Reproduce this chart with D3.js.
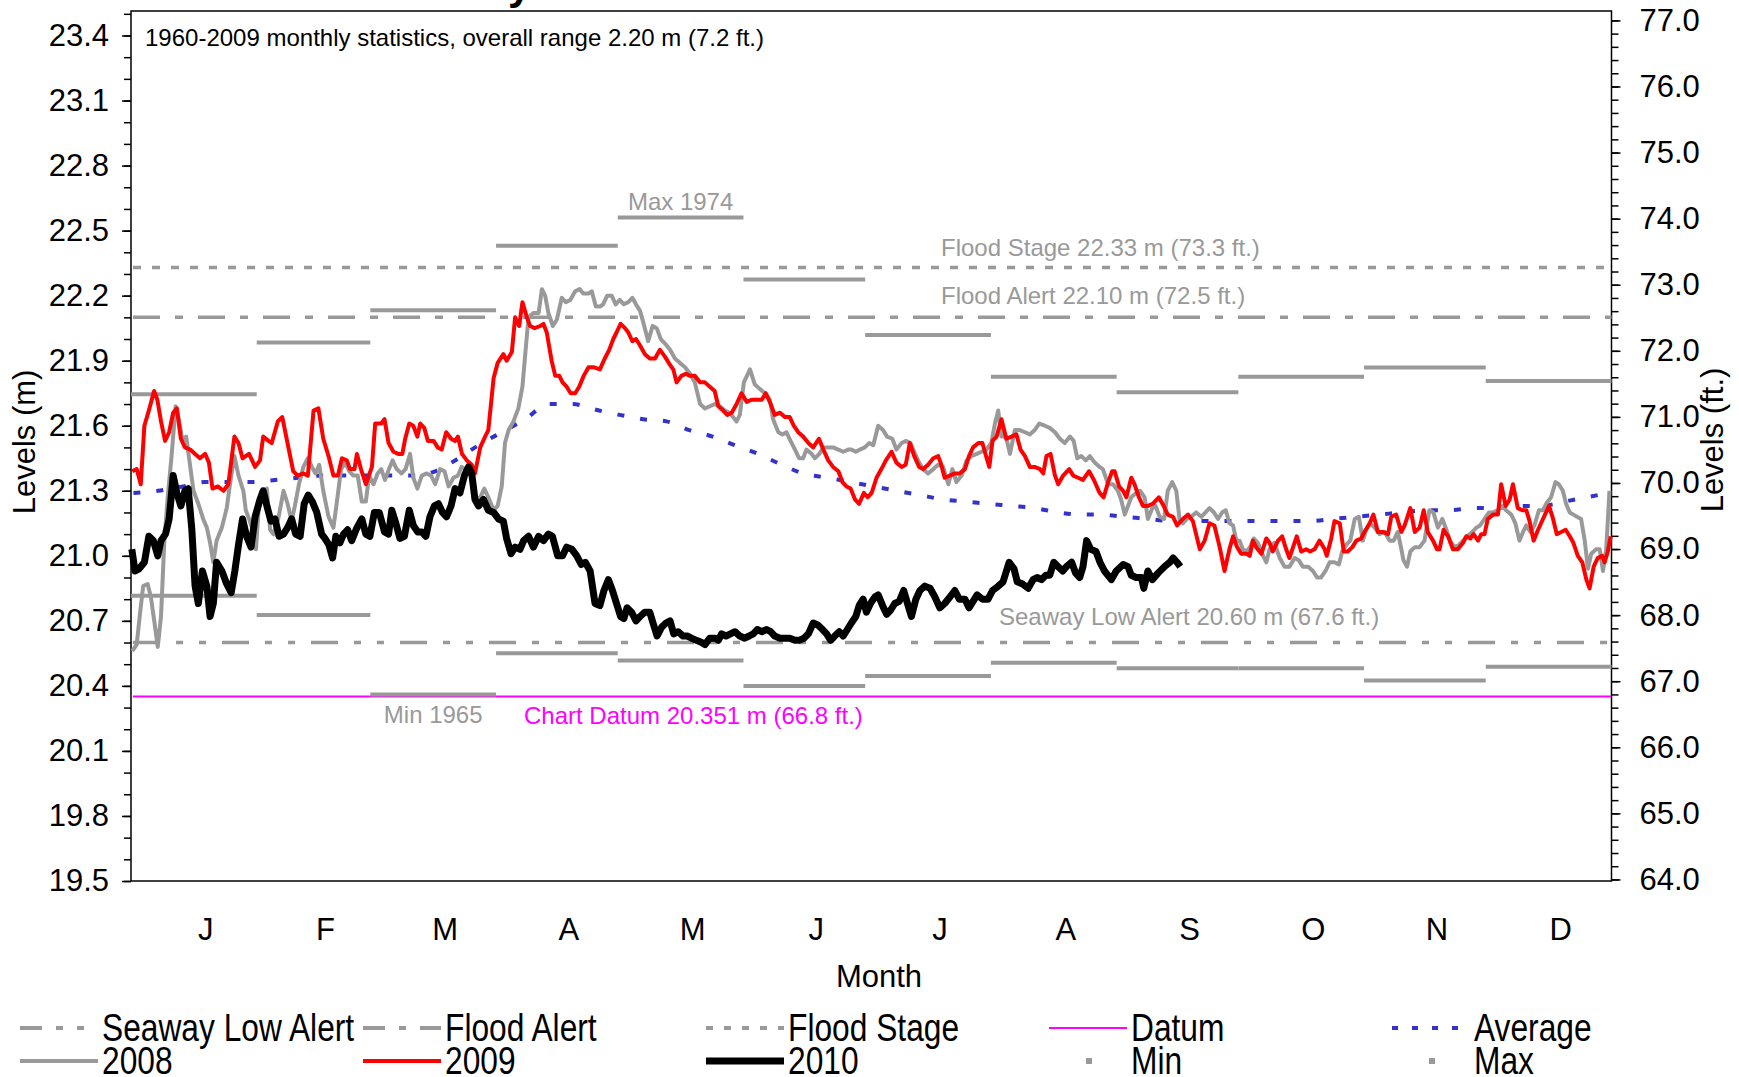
<!DOCTYPE html>
<html>
<head>
<meta charset="utf-8">
<script src="https://cdn.jsdelivr.net/npm/d3@7"></script>
<style>
    body { margin: 0; background: #ffffff; }
    svg text { font-family: "Liberation Sans", Arial, sans-serif; }
</style>
</head>
<body>
<div id="chart_levels"></div>
<script>
// --- Data ---
const monthStarts = [0, 31, 59, 90, 120, 151, 181, 212, 243, 273, 304, 334, 365];
const monthLabels = ["J", "F", "M", "A", "M", "J", "J", "A", "S", "O", "N", "D"];
const monthlyMax = [21.745, 21.984, 22.133, 22.43, 22.56, 22.275, 22.019, 21.826, 21.755, 21.826, 21.869, 21.806];
const monthlyMin = [20.816, 20.727, 20.36, 20.55, 20.517, 20.40, 20.446, 20.507, 20.481, 20.481, 20.425, 20.488];

const leftTicks = [19.5, 19.8, 20.1, 20.4, 20.7, 21.0, 21.3, 21.6, 21.9, 22.2, 22.5, 22.8, 23.1, 23.4];
const rightTicks = [64, 65, 66, 67, 68, 69, 70, 71, 72, 73, 74, 75, 76, 77];

const seawayLowAlert = 20.60;
const floodAlert = 22.10;
const floodStage = 22.33;
const chartDatum = 20.351;

// [day of year, level in m]
const levels2008 = [[0.3,20.56],[1.4,20.59],[2.2,20.73],[3.0,20.86],[4.1,20.87],[4.9,20.81],[5.8,20.69],[6.6,20.58],[7.4,20.72],[8.2,21.06],[9.0,21.26],[10.0,21.46],[11.0,21.69],[11.8,21.63],[12.7,21.53],[13.6,21.55],[14.4,21.44],[15.4,21.30],[16.6,21.24],[17.8,21.17],[18.7,21.13],[19.5,21.06],[20.3,20.97],[21.1,21.07],[22.4,21.13],[23.6,21.22],[24.4,21.33],[25.5,21.46],[26.5,21.37],[27.7,21.30],[28.3,21.21],[29.1,21.17],[30.0,21.12],[30.8,21.03],[31.4,21.20],[32.2,21.30],[33.5,21.31],[34.3,21.12],[35.1,21.10],[36.3,21.17],[37.6,21.30],[38.6,21.24],[39.6,21.16],[40.4,21.23],[41.4,21.33],[42.5,21.41],[43.6,21.45],[44.6,21.41],[45.5,21.38],[46.4,21.42],[47.4,21.30],[48.7,21.18],[49.9,21.13],[50.7,21.24],[51.8,21.40],[52.8,21.43],[53.8,21.39],[54.8,21.37],[55.9,21.37],[56.9,21.25],[57.9,21.25],[58.7,21.37],[59.8,21.33],[60.8,21.38],[61.7,21.40],[62.6,21.35],[63.6,21.40],[64.5,21.44],[65.5,21.40],[66.7,21.38],[67.7,21.40],[68.8,21.47],[69.6,21.36],[70.6,21.31],[71.7,21.37],[72.9,21.38],[74.0,21.37],[75.0,21.33],[76.2,21.40],[77.3,21.39],[78.3,21.32],[79.5,21.36],[80.6,21.37],[81.5,21.41],[82.5,21.40],[83.6,21.40],[84.8,21.26],[86.1,21.27],[87.1,21.31],[88.1,21.27],[89.4,21.21],[90.4,21.23],[91.4,21.32],[92.2,21.52],[93.1,21.58],[94.3,21.62],[95.5,21.68],[96.5,21.78],[97.2,21.93],[98.0,22.10],[99.2,22.12],[100.5,22.12],[101.3,22.23],[102.1,22.20],[102.9,22.12],[104.0,22.06],[105.0,22.09],[106.2,22.19],[107.2,22.17],[108.3,22.18],[109.5,22.22],[110.6,22.23],[111.5,22.21],[112.8,22.21],[113.6,22.22],[114.6,22.15],
    [115.6,22.15],[116.4,22.16],[117.4,22.20],[118.5,22.20],[119.5,22.16],[120.5,22.18],[121.5,22.16],[122.6,22.17],[123.6,22.19],[124.5,22.16],[125.5,22.13],[126.4,22.07],[127.5,21.99],[128.6,22.06],[129.6,22.05],[130.6,22.00],[131.6,21.98],[132.9,21.95],[134.1,21.91],[135.3,21.89],[136.6,21.87],[137.8,21.84],[139.0,21.80],[140.3,21.70],[141.5,21.68],[142.7,21.69],[143.9,21.70],[145.2,21.69],[146.4,21.67],[147.6,21.66],[149.3,21.62],[150.1,21.65],[151.1,21.80],[152.6,21.86],[153.8,21.79],[155.0,21.77],[156.3,21.75],[157.5,21.72],[158.3,21.63],[159.6,21.57],[160.6,21.56],[161.6,21.57],[162.6,21.53],[163.7,21.49],[164.7,21.45],[165.7,21.45],[166.5,21.49],[167.8,21.47],[168.6,21.45],[169.7,21.47],[170.7,21.50],[171.9,21.50],[173.1,21.50],[174.4,21.49],[175.6,21.48],[176.8,21.49],[177.6,21.49],[178.7,21.48],[179.7,21.49],[180.9,21.50],[182.0,21.52],[183.0,21.51],[184.2,21.60],[185.4,21.58],[186.4,21.55],[187.7,21.54],[188.7,21.49],[190.0,21.52],[191.0,21.53],[192.2,21.52],[193.3,21.47],[194.3,21.43],[195.3,21.40],[196.5,21.38],[197.8,21.40],[199.0,21.42],[200.2,21.41],[201.5,21.33],[202.5,21.40],[203.5,21.34],[204.8,21.37],[206.0,21.44],[207.2,21.46],[208.5,21.47],[209.7,21.48],[210.9,21.49],[212.1,21.52],[213.0,21.61],[213.8,21.67],[214.6,21.55],[215.7,21.55],[216.7,21.47],[217.9,21.58],[219.1,21.58],[220.4,21.57],[221.6,21.56],[222.8,21.58],[223.9,21.61],[225.3,21.60],[226.5,21.59],[227.8,21.57],[229.0,21.54],[230.2,21.52],[231.5,21.55],[232.4,21.53],[233.3,21.45],[234.3,21.46],[235.4,21.44],[236.4,21.46],[237.6,21.43],
    [238.8,21.41],[239.6,21.40],[240.9,21.33],[242.1,21.33],[243.3,21.30],[244.1,21.26],[245.0,21.19],[245.8,21.23],[246.6,21.27],[247.8,21.29],[248.8,21.30],[249.9,21.27],[250.7,21.17],[251.8,21.22],[252.6,21.23],[253.6,21.18],[254.7,21.17],[255.6,21.30],[256.7,21.34],[257.7,21.30],[258.5,21.17],[259.3,21.15],[260.3,21.17],[261.4,21.18],[262.6,21.20],[263.9,21.18],[264.9,21.20],[265.9,21.22],[267.0,21.20],[268.0,21.17],[269.0,21.20],[269.9,21.21],[270.8,21.15],[271.7,21.14],[272.5,21.07],[273.3,21.07],[274.1,21.03],[275.0,21.02],[275.9,21.04],[276.8,21.08],[277.8,21.06],[279.1,21.00],[279.9,20.97],[280.7,21.03],[281.9,21.06],[283.2,20.99],[284.4,20.95],[285.6,20.95],[286.9,20.99],[287.9,20.98],[288.9,20.95],[290.2,20.95],[291.4,20.93],[292.4,20.90],[293.4,20.90],[294.5,20.93],[295.5,20.97],[296.7,20.97],[297.8,20.96],[298.6,21.02],[299.6,21.05],[300.6,21.07],[301.7,21.17],[302.7,21.18],[303.7,21.07],[304.5,21.12],[305.4,21.15],[306.6,21.13],[307.8,21.10],[309.1,21.11],[310.3,21.07],[311.3,21.07],[312.3,21.11],[313.2,21.03],[313.7,20.98],[314.6,20.95],[315.4,21.02],[316.5,21.04],[317.7,21.04],[318.9,21.07],[320.1,21.21],[321.1,21.20],[322.2,21.13],[323.3,21.17],[324.3,21.12],[325.2,21.07],[326.3,21.04],[327.4,21.05],[328.4,21.07],[329.4,21.09],[330.7,21.11],[331.7,21.13],[332.6,21.14],[333.7,21.17],[334.8,21.20],[335.8,21.20],[337.0,21.21],[338.2,21.23],[339.0,21.21],[340.3,21.19],[341.3,21.15],[342.3,21.07],[343.2,21.11],[344.0,21.14],[345.0,21.11],[346.0,21.14],[347.1,21.21],[348.1,21.21],[348.9,21.24],[350.1,21.27],[351.2,21.34],[352.0,21.33],[353.0,21.30],[353.8,21.24],[354.7,21.20],[355.6,21.19],[356.5,21.18],[357.5,21.17],[358.4,21.07],[359.2,20.94],[360.0,21.01],[361.2,21.03],[362.1,21.03],[362.9,20.93],[363.7,21.03],[364.5,21.30]];

const levels2009 = [[0.3,21.39],[1.4,21.40],[2.4,21.33],[3.3,21.60],[4.4,21.67],[5.7,21.76],[6.5,21.72],[7.4,21.62],[8.4,21.53],[9.4,21.57],[10.4,21.66],[11.3,21.68],[12.3,21.54],[13.3,21.50],[14.6,21.49],[15.8,21.47],[17.0,21.45],[18.3,21.47],[19.2,21.43],[20.1,21.31],[21.4,21.32],[22.8,21.30],[24.0,21.33],[25.5,21.55],[26.5,21.52],[27.5,21.45],[29.1,21.47],[30.6,21.41],[31.8,21.44],[32.6,21.55],[33.9,21.53],[34.7,21.52],[36.2,21.62],[37.3,21.64],[38.8,21.50],[40.0,21.39],[41.1,21.37],[42.5,21.38],[43.6,21.37],[45.0,21.67],[46.2,21.68],[47.4,21.54],[48.7,21.46],[49.9,21.37],[51.0,21.37],[52.0,21.45],[53.2,21.44],[54.0,21.40],[55.1,21.40],[55.7,21.47],[56.7,21.40],[57.9,21.33],[59.4,21.41],[60.2,21.61],[61.7,21.61],[62.5,21.63],[63.5,21.52],[64.7,21.48],[65.9,21.47],[66.9,21.47],[67.6,21.54],[68.6,21.61],[69.6,21.60],[70.6,21.55],[71.3,21.61],[72.3,21.59],[73.2,21.53],[74.6,21.53],[75.6,21.50],[76.6,21.49],[77.7,21.57],[78.9,21.54],[79.9,21.53],[80.6,21.55],[81.6,21.47],[82.8,21.44],[84.0,21.42],[84.8,21.38],[86.1,21.50],[87.3,21.55],[88.1,21.58],[89.4,21.82],[90.4,21.89],[91.8,21.93],[92.6,21.90],[93.9,21.94],[94.7,22.10],[95.7,22.06],[96.5,22.17],[97.6,22.10],[98.4,22.06],[99.5,22.05],[100.9,22.06],[101.7,22.07],[102.5,22.03],[103.7,21.90],[104.6,21.83],[105.6,21.83],[106.4,21.80],[107.4,21.78],[108.4,21.75],[109.5,21.75],[110.5,21.78],[111.6,21.83],[112.8,21.87],[114.0,21.87],
    [115.6,21.86],[116.8,21.91],[117.9,21.95],[118.9,22.00],[119.7,22.03],[120.7,22.07],[121.8,22.05],[122.6,22.03],[123.6,21.99],[124.5,22.00],[125.5,21.97],[126.7,21.93],[127.9,21.91],[129.2,21.91],[130.4,21.95],[131.6,21.92],[132.9,21.88],[133.7,21.86],[134.5,21.80],[135.7,21.83],[136.8,21.84],[137.8,21.83],[139.0,21.83],[140.3,21.80],[141.5,21.80],[142.7,21.78],[143.9,21.76],[144.8,21.69],[146.0,21.67],[147.0,21.65],[148.1,21.66],[149.3,21.70],[150.5,21.75],[151.8,21.71],[153.0,21.72],[154.2,21.72],[155.5,21.72],[156.5,21.75],[157.7,21.70],[158.7,21.65],[160.0,21.66],[161.2,21.64],[162.4,21.64],[163.4,21.60],[164.5,21.57],[165.7,21.55],[167.0,21.52],[168.2,21.50],[169.6,21.54],[170.7,21.49],[171.9,21.44],[173.1,21.41],[174.4,21.39],[175.4,21.34],[176.4,21.32],[177.4,21.31],[178.5,21.26],[179.5,21.24],[180.7,21.29],[181.6,21.27],[182.6,21.29],[183.8,21.36],[185.0,21.40],[186.1,21.44],[187.5,21.48],[188.7,21.43],[190.0,21.41],[191.0,21.42],[192.0,21.52],[193.1,21.46],[194.3,21.41],[195.3,21.40],[196.5,21.42],[197.8,21.45],[199.0,21.46],[199.6,21.43],[200.6,21.36],[201.9,21.37],[203.1,21.38],[204.3,21.38],[205.6,21.40],[206.6,21.46],[207.6,21.50],[208.9,21.52],[209.9,21.52],[210.8,21.46],[211.6,21.41],[212.4,21.53],[213.4,21.55],[214.6,21.63],[215.8,21.54],[217.1,21.55],[218.3,21.56],[219.3,21.49],[220.4,21.46],[221.6,21.41],[222.8,21.41],[224.1,21.40],[224.9,21.38],[225.7,21.46],[226.7,21.47],[227.8,21.37],[228.6,21.33],[229.8,21.37],[231.3,21.40],[232.3,21.37],[233.5,21.36],[234.7,21.35],[236.2,21.39],[237.4,21.35],
    [238.8,21.29],[239.8,21.27],[240.9,21.34],[241.9,21.39],[242.5,21.39],[243.6,21.32],[244.6,21.30],[245.4,21.27],[246.6,21.36],[247.4,21.33],[248.5,21.27],[249.5,21.23],[250.7,21.23],[251.9,21.24],[253.4,21.27],[254.6,21.23],[255.6,21.19],[256.9,21.18],[257.9,21.14],[259.3,21.17],[260.6,21.19],[261.8,21.16],[263.5,21.03],[264.7,21.07],[265.9,21.15],[267.1,21.14],[268.4,21.04],[269.6,20.93],[270.8,21.03],[271.7,21.09],[272.7,21.04],[273.7,21.01],[275.0,21.01],[275.8,21.00],[276.6,21.07],[277.4,21.04],[278.7,21.01],[279.9,21.08],[280.7,21.06],[281.5,21.02],[282.8,21.07],[283.8,21.09],[284.8,21.03],[285.6,20.99],[286.5,21.04],[287.4,21.09],[288.5,21.02],[289.7,21.03],[290.7,21.02],[291.8,21.03],[293.0,21.07],[294.3,21.03],[294.8,21.00],[295.9,21.08],[296.7,21.16],[298.0,21.15],[299.0,21.02],[300.0,21.02],[301.1,21.04],[302.1,21.07],[303.3,21.08],[304.1,21.11],[305.4,21.15],[306.3,21.19],[307.4,21.11],[308.6,21.11],[309.9,21.10],[310.7,21.18],[311.9,21.19],[313.2,21.11],[314.0,21.14],[315.4,21.22],[316.5,21.11],[317.7,21.13],[318.7,21.21],[319.7,21.11],[321.0,21.07],[322.0,21.03],[322.6,21.03],[323.6,21.12],[324.7,21.09],[325.9,21.03],[327.1,21.03],[328.4,21.06],[329.2,21.09],[330.2,21.08],[331.0,21.10],[332.1,21.07],[332.9,21.10],[333.7,21.10],[334.5,21.17],[335.8,21.19],[337.0,21.19],[337.8,21.33],[338.9,21.23],[339.9,21.26],[340.7,21.33],[341.9,21.22],[343.0,21.21],[344.0,21.21],[344.8,21.16],[345.8,21.07],[346.9,21.12],[348.1,21.17],[349.6,21.23],[350.6,21.17],[351.5,21.10],[352.6,21.11],[353.7,21.12],[354.7,21.09],[355.6,21.06],[356.7,21.00],[357.8,20.97],[358.8,20.89],[359.6,20.85],[360.6,20.95],[361.6,20.99],[362.7,21.00],[363.3,20.97],[364.1,21.02],[364.8,21.09]];

const levels2010 = [[0.2,21.03],[1.0,20.93],[2.0,20.94],[3.3,20.97],[4.4,21.09],[5.5,21.07],[6.6,21.00],[7.4,21.07],[8.5,21.10],[9.4,21.17],[10.4,21.37],[11.3,21.29],[12.3,21.23],[13.3,21.30],[14.1,21.31],[15.0,21.12],[15.8,20.86],[16.6,20.78],[17.6,20.93],[18.7,20.86],[19.5,20.72],[20.3,20.78],[21.1,20.97],[22.4,20.93],[23.6,20.87],[24.7,20.83],[25.6,20.93],[26.5,21.05],[27.5,21.17],[28.5,21.09],[29.6,21.04],[30.6,21.18],[31.8,21.26],[32.6,21.30],[33.5,21.23],[34.5,21.16],[35.5,21.17],[36.5,21.09],[37.6,21.10],[38.6,21.13],[39.6,21.17],[40.6,21.10],[41.7,21.09],[42.7,21.24],[43.7,21.28],[44.7,21.25],[45.8,21.20],[47.0,21.10],[47.8,21.08],[48.8,21.05],[49.7,20.99],[50.5,21.09],[51.5,21.06],[52.4,21.10],[53.4,21.12],[54.4,21.07],[55.7,21.13],[56.9,21.17],[57.9,21.10],[58.9,21.09],[60.0,21.20],[61.2,21.20],[62.5,21.11],[63.5,21.10],[64.3,21.21],[65.3,21.15],[66.3,21.08],[67.4,21.09],[68.6,21.21],[69.6,21.14],[70.7,21.11],[71.7,21.11],[72.7,21.09],[73.7,21.18],[74.8,21.23],[75.8,21.24],[76.8,21.20],[77.8,21.18],[78.9,21.23],[79.9,21.31],[81.1,21.29],[82.2,21.37],[83.2,21.41],[84.0,21.38],[84.8,21.26],[85.7,21.23],[86.9,21.26],[88.1,21.21],[89.4,21.20],[90.6,21.17],[91.8,21.16],[92.6,21.08],[93.7,21.01],[94.7,21.04],[95.9,21.03],[96.8,21.07],[98.0,21.09],[99.2,21.04],[100.5,21.09],[101.7,21.07],[102.9,21.10],[103.9,21.09],[105.2,21.00],[106.4,21.00],[107.4,21.04],[108.7,21.03],[109.9,21.00],[111.0,20.96],[112.0,20.97],[113.2,20.93],[114.4,20.78],
    [115.6,20.77],[116.6,20.84],[117.7,20.89],[118.7,20.84],[119.7,20.78],[120.7,20.72],[121.5,20.71],[122.3,20.76],[123.4,20.74],[124.5,20.70],[125.5,20.72],[126.7,20.74],[127.9,20.74],[128.7,20.69],[129.7,20.63],[130.8,20.67],[131.9,20.69],[132.9,20.70],[133.8,20.64],[134.9,20.65],[136.1,20.63],[137.1,20.63],[138.2,20.62],[139.4,20.61],[140.7,20.60],[141.5,20.59],[142.7,20.62],[144.0,20.62],[144.8,20.61],[145.6,20.64],[146.7,20.63],[147.8,20.64],[148.9,20.65],[150.1,20.63],[151.3,20.62],[152.4,20.63],[153.4,20.64],[154.4,20.66],[155.5,20.65],[156.7,20.66],[157.7,20.65],[158.7,20.63],[160.0,20.62],[161.2,20.62],[162.4,20.62],[163.7,20.61],[164.7,20.61],[165.9,20.62],[167.0,20.64],[168.2,20.69],[169.4,20.68],[170.5,20.66],[171.5,20.64],[172.5,20.61],[173.5,20.63],[174.6,20.65],[175.6,20.63],[176.6,20.66],[177.6,20.69],[178.7,20.72],[179.5,20.77],[180.5,20.80],[181.3,20.74],[182.3,20.78],[183.4,20.81],[184.2,20.82],[185.3,20.77],[186.3,20.73],[187.3,20.75],[188.3,20.78],[189.4,20.79],[190.5,20.84],[191.6,20.77],[192.4,20.72],[193.5,20.80],[194.5,20.84],[195.7,20.86],[197.0,20.85],[198.2,20.81],[199.4,20.76],[200.6,20.78],[201.9,20.81],[203.1,20.84],[204.2,20.80],[205.6,20.80],[206.6,20.76],[207.6,20.79],[208.6,20.82],[209.9,20.80],[211.3,20.80],[212.4,20.84],[213.8,20.86],[215.0,20.88],[216.5,20.97],[217.7,20.94],[218.5,20.88],[219.8,20.87],[221.2,20.85],[222.4,20.89],[223.4,20.90],[224.5,20.89],[225.5,20.91],[226.5,20.91],[227.5,20.97],[228.6,20.95],[229.7,20.93],[230.6,20.95],[231.9,20.97],[232.9,20.92],[233.9,20.90],[234.7,20.95],[235.6,21.07],[236.6,21.03],[237.9,21.02],[238.9,20.97],
    [240.0,20.93],[241.7,20.89],[242.9,20.93],[244.6,20.96],[245.8,20.95],[246.6,20.91],[247.8,20.90],[249.1,20.90],[249.7,20.85],[250.7,20.93],[251.8,20.89],[253.2,20.92],[254.8,20.95],[256.1,20.97],[256.9,20.99],[257.9,20.97],[258.7,20.95]];

const levelsAverage = [[0.6,21.29],[6.7,21.30],[12.9,21.32],[18.2,21.34],[24.8,21.34],[29.8,21.34],[35.5,21.35],[41.3,21.36],[47.0,21.37],[52.0,21.37],[57.7,21.37],[64.3,21.37],[70.0,21.37],[75.0,21.39],[79.9,21.44],[85.7,21.51],[91.4,21.57],[97.2,21.63],[102.9,21.70],[108.7,21.70],[115.4,21.67],[120.5,21.65],[126.3,21.63],[132.0,21.62],[137.6,21.58],[143.4,21.55],[148.9,21.51],[154.6,21.47],[160.4,21.42],[165.7,21.38],[171.9,21.36],[177.4,21.34],[183.0,21.32],[188.7,21.30],[194.5,21.28],[200.2,21.26],[206.0,21.25],[211.3,21.24],[217.1,21.23],[222.8,21.22],[228.6,21.20],[233.9,21.19],[238.8,21.19],[245.0,21.18],[250.7,21.17],[256.5,21.16],[262.6,21.16],[268.0,21.16],[273.7,21.16],[279.5,21.16],[284.8,21.16],[290.6,21.16],[296.3,21.17],[302.1,21.18],[307.8,21.19],[313.2,21.20],[319.3,21.21],[325.1,21.21],[330.4,21.22],[336.2,21.22],[341.9,21.23],[347.7,21.23],[353.4,21.25],[358.8,21.27],[364.5,21.29]];

function drawLevelsChart() {
    var w = 1739, h = 1077;
    var grey = "#999999";

    var svg = d3.select("#chart_levels")
        .append("svg")
        .attr("width", w)
        .attr("height", h);

    // --- Scales ---
    var xScale = d3.scaleLinear().domain([0, 365]).range([131, 1611.5]);
    var yScale = d3.scaleLinear().domain([19.5, 23.513]).range([881, 11]);
    var ftScale = d3.scaleLinear().domain([19.5 / 0.3048, 23.513 / 0.3048]).range([881, 11]);

    // title above the picture, only its descender shows
    svg.append("text")
        .attr("x", 508).attr("y", -1)
        .style("font-size", "42px").style("font-weight", "bold")
        .text("y");

    // --- Frame ---
    svg.append("rect")
        .attr("x", xScale(0)).attr("y", yScale(23.513))
        .attr("width", xScale(365) - xScale(0))
        .attr("height", yScale(19.5) - yScale(23.513))
        .attr("fill", "none").attr("stroke", "#000").attr("stroke-width", 1.5);

    // --- Axes ---
    svg.append("g")
        .attr("transform", `translate(${xScale(0)},0)`)
        .call(d3.axisLeft(yScale).tickValues(leftTicks).tickSize(9).tickSizeOuter(0)
            .tickPadding(13).tickFormat(d3.format(".1f")));
    svg.append("g")
        .attr("transform", `translate(${xScale(0)},0)`)
        .call(d3.axisLeft(yScale).tickValues(d3.range(195, 236).map(d => d / 10)).tickSize(7).tickSizeOuter(0).tickFormat(""));

    svg.append("g")
        .attr("transform", `translate(${xScale(365)},0)`)
        .call(d3.axisRight(ftScale).tickValues(rightTicks).tickSize(9).tickSizeOuter(0)
            .tickPadding(19).tickFormat(d3.format(".1f")));
    svg.append("g")
        .attr("transform", `translate(${xScale(365)},0)`)
        .call(d3.axisRight(ftScale).tickValues(d3.range(320, 386).map(d => d / 5)).tickSize(7).tickSizeOuter(0).tickFormat(""));

    svg.selectAll(".domain").remove();
    svg.selectAll(".tick line").attr("stroke", "#000").attr("stroke-width", 1.5);
    svg.selectAll(".tick text").style("font-size", "31px").style("fill", "#000")
        .style("font-family", "'Liberation Sans', Arial, sans-serif");

    // month labels
    svg.selectAll(".month-label")
        .data(monthLabels)
        .enter().append("text")
        .attr("class", "month-label")
        .attr("x", (d, i) => xScale((monthStarts[i] + monthStarts[i + 1]) / 2) + 12)
        .attr("y", 940)
        .attr("text-anchor", "middle")
        .style("font-size", "31px")
        .text(d => d);

    svg.append("text")
        .attr("x", 879).attr("y", 987)
        .attr("text-anchor", "middle")
        .style("font-size", "31px")
        .text("Month");

    svg.append("text")
        .attr("transform", "translate(35,442) rotate(-90)")
        .attr("text-anchor", "middle")
        .style("font-size", "31px")
        .text("Levels (m)");

    svg.append("text")
        .attr("transform", "translate(1723,440) rotate(-90)")
        .attr("text-anchor", "middle")
        .style("font-size", "31px")
        .text("Levels (ft.)");

    svg.append("text")
        .attr("x", 145).attr("y", 46)
        .style("font-size", "24px")
        .text("1960-2009 monthly statistics, overall range 2.20 m (7.2 ft.)");

    // --- Reference lines ---
    var refLines = [
        { value: seawayLowAlert, dash: "27,16,7,16,7,16", color: grey, width: 3.5 },
        { value: floodAlert, dash: "27,15,8,15", color: grey, width: 3.5 },
        { value: floodStage, dash: "8,11", color: grey, width: 3.5 },
        { value: chartDatum, dash: null, color: "#ff00ff", width: 2 }
    ];
    svg.append("g").selectAll("line")
        .data(refLines)
        .enter().append("line")
        .attr("x1", xScale(0) + 2).attr("x2", xScale(365))
        .attr("y1", d => yScale(d.value)).attr("y2", d => yScale(d.value))
        .attr("stroke", d => d.color)
        .attr("stroke-width", d => d.width)
        .attr("stroke-dasharray", d => d.dash);

    // --- Monthly max / min bars ---
    function drawBars(values) {
        svg.append("g").selectAll("line")
            .data(values)
            .enter().append("line")
            .attr("x1", (d, i) => xScale(monthStarts[i]))
            .attr("x2", (d, i) => xScale(monthStarts[i + 1]))
            .attr("y1", d => yScale(d)).attr("y2", d => yScale(d))
            .attr("stroke", grey)
            .attr("stroke-width", 4);
    }
    drawBars(monthlyMax);
    drawBars(monthlyMin);

    // --- Annotations ---
    var annoStyle = sel => sel.style("font-size", "24px").style("fill", grey);
    svg.append("text").attr("x", xScale((monthStarts[4] + monthStarts[5]) / 2)).attr("y", yScale(monthlyMax[4]) - 8)
        .attr("text-anchor", "middle").call(annoStyle).text("Max 1974");
    svg.append("text").attr("x", xScale((monthStarts[2] + monthStarts[3]) / 2)).attr("y", yScale(monthlyMin[2]) + 28)
        .attr("text-anchor", "middle").call(annoStyle).text("Min 1965");
    svg.append("text").attr("x", 941).attr("y", yScale(floodStage) - 11)
        .call(annoStyle).text("Flood Stage 22.33 m (73.3 ft.)");
    svg.append("text").attr("x", 941).attr("y", yScale(floodAlert) - 13)
        .call(annoStyle).text("Flood Alert 22.10 m (72.5 ft.)");
    svg.append("text").attr("x", 999).attr("y", yScale(seawayLowAlert) - 18)
        .call(annoStyle).text("Seaway Low Alert 20.60 m (67.6 ft.)");
    svg.append("text").attr("x", 524).attr("y", yScale(chartDatum) + 27)
        .style("font-size", "24px").style("fill", "#ff00ff")
        .text("Chart Datum 20.351 m (66.8 ft.)");

    // --- Series ---
    var line = d3.line().x(d => xScale(d[0])).y(d => yScale(d[1]));
    var smoothLine = d3.line().x(d => xScale(d[0])).y(d => yScale(d[1])).curve(d3.curveMonotoneX);

    svg.append("path").datum(levelsAverage)
        .attr("d", smoothLine).attr("fill", "none")
        .attr("stroke", "#3333cc").attr("stroke-width", 4).attr("stroke-dasharray", "7,16");

    svg.append("path").datum(levels2008)
        .attr("d", line).attr("fill", "none")
        .attr("stroke", grey).attr("stroke-width", 4).attr("stroke-linejoin", "round");

    svg.append("path").datum(levels2009)
        .attr("d", line).attr("fill", "none")
        .attr("stroke", "#ff0000").attr("stroke-width", 4).attr("stroke-linejoin", "round");

    svg.append("path").datum(levels2010)
        .attr("d", line).attr("fill", "none")
        .attr("stroke", "#000000").attr("stroke-width", 7).attr("stroke-linejoin", "round");

    // --- Legend ---
    var legendItems = [
        { label: "Seaway Low Alert", color: grey, width: 4, dash: "22,14,7,14,7,14" },
        { label: "Flood Alert", color: grey, width: 4, dash: "22,14,7,14" },
        { label: "Flood Stage", color: grey, width: 4, dash: "7,11" },
        { label: "Datum", color: "#ff00ff", width: 2, dash: null },
        { label: "Average", color: "#3333cc", width: 4, dash: "6,14" },
        { label: "2008", color: grey, width: 4, dash: null },
        { label: "2009", color: "#ff0000", width: 4, dash: null },
        { label: "2010", color: "#000000", width: 7, dash: null },
        { label: "Min", color: grey, marker: true },
        { label: "Max", color: grey, marker: true }
    ];

    var legend = svg.append("g").attr("class", "legend");
    var legendItem = legend.selectAll(".legend-item")
        .data(legendItems)
        .enter().append("g")
        .attr("class", "legend-item")
        .attr("transform", (d, i) => `translate(${20 + (i % 5) * 343},${i < 5 ? 1028 : 1061})`);

    legendItem.filter(d => !d.marker).append("line")
        .attr("x1", 0).attr("x2", 78)
        .attr("stroke", d => d.color)
        .attr("stroke-width", d => d.width)
        .attr("stroke-dasharray", d => d.dash);

    legendItem.filter(d => d.marker).append("rect")
        .attr("x", 37).attr("y", -3).attr("width", 6).attr("height", 6)
        .attr("fill", d => d.color);

    // narrow lettering, as in the reference
    legendItem.append("text")
        .attr("transform", "translate(82,13) scale(0.835,1)")
        .style("font-size", "38px")
        .text(d => d.label);
}

drawLevelsChart();
</script>
</body>
</html>
